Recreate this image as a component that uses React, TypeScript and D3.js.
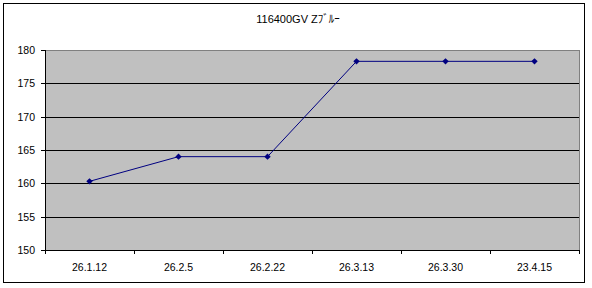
import React from "react";
import * as d3 from "d3";

const title = "116400GV Zﾌﾞﾙｰ";
const categories = ["26.1.12", "26.2.5", "26.2.22", "26.3.13", "26.3.30", "23.4.15"];
const values = [160.3, 164, 164, 178.3, 178.3, 178.3];
const yTicks = [150, 155, 160, 165, 170, 175, 180];

export default function App() {
  const W = 592, H = 288;
  const left = 45, right = 579, top = 50, bottom = 250;
  const x = d3.scaleBand<string>().domain(categories).range([left, right]);
  const y = d3.scaleLinear().domain([150, 180]).range([bottom, top]);
  const cx = (i: number) => (x(categories[i]) as number) + x.bandwidth() / 2;
  const line = d3.line<number>()
    .x((_, i) => cx(i))
    .y((d) => y(d));
  const font = "'Liberation Sans', Arial, sans-serif";
  const r = 3.2;
  const diamond = `M0,${-r}L${r},0L0,${r}L${-r},0Z`;
  const boundaries = categories.map((c) => x(c) as number).concat([right]);
  return (
    <div style={{ position: "absolute", left: 0, top: 0 }}>
      <svg width={W} height={H} style={{ display: "block", background: "#fff" }}>
        <rect x={3.5} y={3.5} width={581} height={279} fill="#fff" stroke="#000" strokeWidth={1} />
        <text x={298} y={23} textAnchor="middle" fontSize={11} fontFamily={"'Liberation Sans', 'Noto Sans CJK JP', sans-serif"} fill="#000">{title}</text>
        <rect x={left} y={top} width={right - left} height={bottom - top} fill="#C0C0C0" stroke="#808080" strokeWidth={1} shapeRendering="crispEdges" />
        {yTicks.map((t) => (
          <g key={t}>
            {t !== 150 && t !== 180 && (
              <line x1={left} x2={right} y1={Math.round(y(t)) + 0.5} y2={Math.round(y(t)) + 0.5} stroke="#000" strokeWidth={1} />
            )}
            <line x1={left - 4} x2={left} y1={Math.round(y(t)) + 0.5} y2={Math.round(y(t)) + 0.5} stroke="#000" strokeWidth={1} />
            <text x={35} y={y(t) + 4} textAnchor="end" fontSize={10.5} fontFamily={font} fill="#000">{t}</text>
          </g>
        ))}
        <line x1={left + 0.5} x2={left + 0.5} y1={top} y2={bottom + 0.5} stroke="#000" strokeWidth={1} />
        <line x1={left} x2={right} y1={bottom + 0.5} y2={bottom + 0.5} stroke="#000" strokeWidth={1} />
        {boundaries.map((b, i) => (
          <line key={i} x1={Math.round(b) + 0.5} x2={Math.round(b) + 0.5} y1={bottom} y2={bottom + 4} stroke="#000" strokeWidth={1} />
        ))}
        {categories.map((c, i) => (
          <text key={c} x={cx(i)} y={271} textAnchor="middle" fontSize={10.5} fontFamily={font} fill="#000">{c}</text>
        ))}
        <path d={line(values) || ""} fill="none" stroke="#000080" strokeWidth={1} />
        {values.map((v, i) => (
          <path key={i} d={diamond} transform={`translate(${cx(i)},${y(v)})`} fill="#000080" />
        ))}
      </svg>
    </div>
  );
}
